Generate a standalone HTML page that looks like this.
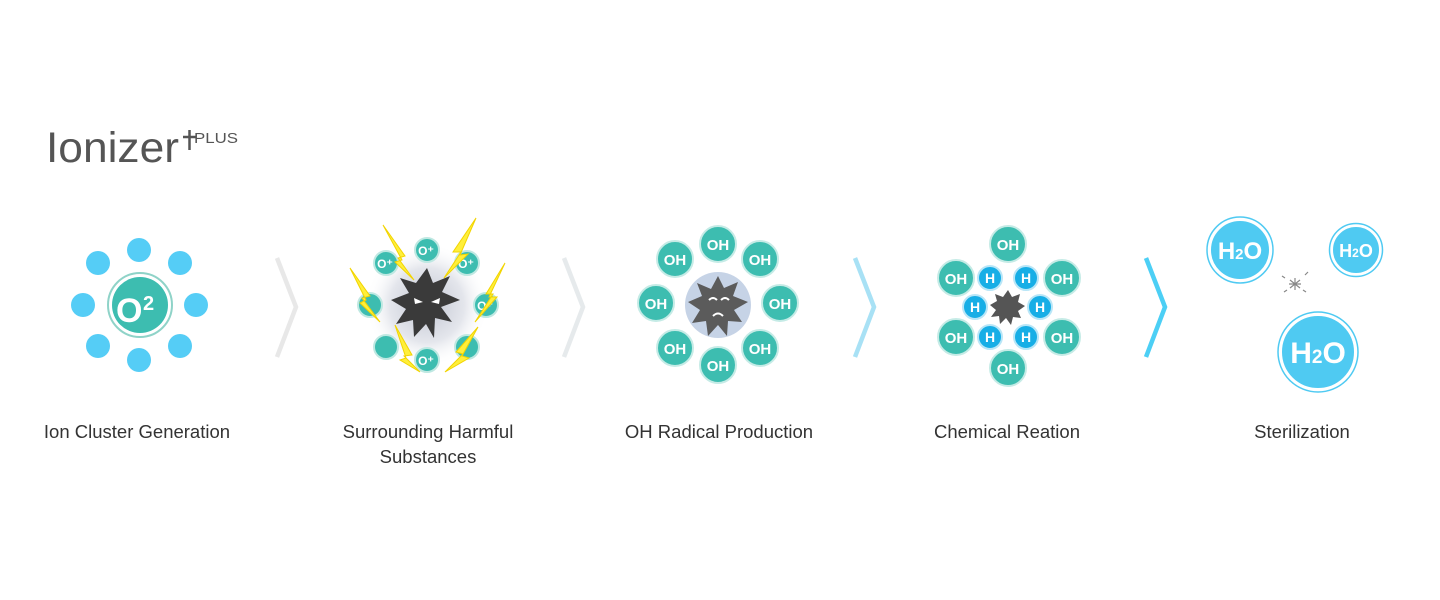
<!DOCTYPE html>
<html><head><meta charset="utf-8"><style>
html,body{margin:0;padding:0;background:#fff;}
svg{display:block}
text{font-family:"Liberation Sans",Arial,sans-serif}
</style></head><body>
<svg width="1440" height="600" viewBox="0 0 1440 600" xmlns="http://www.w3.org/2000/svg">
<defs>
<radialGradient id="glow" cx="50%" cy="50%" r="50%"><stop offset="0" stop-color="#c2c6d2"/><stop offset="0.6" stop-color="#e4e6ec"/><stop offset="1" stop-color="#fff" stop-opacity="0"/></radialGradient>
</defs>
<rect width="1440" height="600" fill="#fff"/>
<!-- title -->
<text x="46" y="162" font-size="43" fill="#555" textLength="133" lengthAdjust="spacingAndGlyphs">Ionizer</text>
<text x="194" y="143" font-size="15" fill="#555" textLength="44" lengthAdjust="spacingAndGlyphs">PLUS</text>
<path d="M183 137 H196 M189.5 130 V150" stroke="#555" stroke-width="2.5"/>

<!-- Stage 1 -->
<g fill="#55cdf6">
<circle cx="139" cy="250" r="12"/><circle cx="98" cy="263" r="12"/><circle cx="180" cy="263" r="12"/>
<circle cx="83" cy="305" r="12"/><circle cx="196" cy="305" r="12"/>
<circle cx="98" cy="346" r="12"/><circle cx="180" cy="346" r="12"/><circle cx="139" cy="360" r="12"/>
</g>
<circle cx="140" cy="305" r="32" fill="#fff" stroke="#8fd3c8" stroke-width="2"/>
<circle cx="140" cy="305" r="28" fill="#3dbdb0"/>
<text x="116" y="322" font-size="34" font-weight="bold" fill="#fff">O</text>
<text x="143" y="310" font-size="20" font-weight="bold" fill="#fff">2</text>

<!-- chevrons -->
<polyline points="277,258 296,307 277,357" fill="none" stroke="#e8e8e8" stroke-width="4.5"/>
<polyline points="564,258 583,307 564,357" fill="none" stroke="#e6eaec" stroke-width="4.5"/>
<polyline points="855,258 874,307 855,357" fill="none" stroke="#a8e1f5" stroke-width="4.5"/>
<polyline points="1146,258 1165,307 1146,357" fill="none" stroke="#4ccff5" stroke-width="4.5"/>

<!-- Stage 2 -->
<circle cx="427" cy="305" r="62" fill="url(#glow)"/>
<g>
<g fill="#3dbdb0" stroke="#bfe8e2" stroke-width="2">
<circle cx="427" cy="250" r="12"/><circle cx="386" cy="263" r="12"/><circle cx="467" cy="263" r="12"/>
<circle cx="370" cy="305" r="12"/><circle cx="486" cy="305" r="12"/>
<circle cx="386" cy="347" r="12"/><circle cx="467" cy="347" r="12"/><circle cx="427" cy="360" r="12"/>
</g>
<g font-size="12" font-weight="bold" fill="#fff" text-anchor="middle">
<text x="426" y="255">O⁺</text><text x="385" y="268">O⁺</text><text x="466" y="268">O⁺</text>
<text x="485" y="310">O⁺</text><text x="426" y="365">O⁺</text>
</g>
</g>
<polygon points="427,268 433,283 450,276 442,292 460,300 441,307 452,322 435,318 434,338 426,324 414,337 413,320 396,324 406,309 391,300 409,293 400,278 416,283" fill="#3a3a3a"/>
<path d="M414 298 l9 4 l-8 2z M440 298 l-9 4 l8 2z" fill="#fff"/>
<g fill="#ffef3a" stroke="#f2d400" stroke-width="1">
<polygon points="383,225 405,256 398,258 414,280 395,262 402,260"/>
<polygon points="476,218 453,252 461,252 444,278 468,254 460,255"/>
<polygon points="350,268 370,296 362,298 380,322 360,303 366,300"/>
<polygon points="505,263 486,294 493,294 475,322 497,297 489,297"/>
<polygon points="395,325 412,355 404,356 420,372 400,360 406,358"/>
<polygon points="478,327 456,352 463,354 445,372 469,358 462,356"/>
</g>

<!-- Stage 3 -->
<circle cx="718" cy="305" r="33" fill="#b8c8e0" opacity="0.8"/>
<polygon points="718,276 724,288 738,282 733,296 748,302 734,310 742,322 728,321 727,336 718,325 708,336 706,321 692,323 700,310 688,302 702,296 697,283 711,289" fill="#5b5b5b"/>
<path d="M709 300 q4 -4 8 0 M721 300 q4 -4 8 0 M713 316 q5 -5 10 0" stroke="#fff" stroke-width="2" fill="none"/>
<g fill="#3dbdb0" stroke="#c5ebe6" stroke-width="2">
<circle cx="718" cy="244" r="18"/><circle cx="675" cy="259" r="18"/><circle cx="760" cy="259" r="18"/>
<circle cx="656" cy="303" r="18"/><circle cx="780" cy="303" r="18"/>
<circle cx="675" cy="348" r="18"/><circle cx="760" cy="348" r="18"/><circle cx="718" cy="365" r="18"/>
</g>
<g font-size="15" font-weight="bold" fill="#fff" text-anchor="middle">
<text x="718" y="250">OH</text><text x="675" y="265">OH</text><text x="760" y="265">OH</text>
<text x="656" y="309">OH</text><text x="780" y="309">OH</text>
<text x="675" y="354">OH</text><text x="760" y="354">OH</text><text x="718" y="371">OH</text>
</g>

<!-- Stage 4 -->
<g fill="#3dbdb0" stroke="#c5ebe6" stroke-width="2">
<circle cx="1008" cy="244" r="18"/><circle cx="956" cy="278" r="18"/><circle cx="1062" cy="278" r="18"/>
<circle cx="956" cy="337" r="18"/><circle cx="1062" cy="337" r="18"/><circle cx="1008" cy="368" r="18"/>
</g>
<g font-size="15" font-weight="bold" fill="#fff" text-anchor="middle">
<text x="1008" y="250">OH</text><text x="956" y="284">OH</text><text x="1062" y="284">OH</text>
<text x="956" y="343">OH</text><text x="1062" y="343">OH</text><text x="1008" y="374">OH</text>
</g>
<g fill="#17aee6" stroke="#b9e6f7" stroke-width="2">
<circle cx="990" cy="278" r="12"/><circle cx="1026" cy="278" r="12"/>
<circle cx="975" cy="307" r="12"/><circle cx="1040" cy="307" r="12"/>
<circle cx="990" cy="337" r="12"/><circle cx="1026" cy="337" r="12"/>
</g>
<g font-size="14" font-weight="bold" fill="#fff" text-anchor="middle">
<text x="990" y="283">H</text><text x="1026" y="283">H</text><text x="975" y="312">H</text>
<text x="1040" y="312">H</text><text x="990" y="342">H</text><text x="1026" y="342">H</text>
</g>
<polygon points="1008,290 1012,297 1020,294 1018,302 1025,306 1018,311 1021,318 1013,317 1011,325 1006,318 1000,324 999,316 991,317 996,310 990,305 997,301 995,294 1003,297" fill="#555"/>

<!-- Stage 5 -->
<g fill="#4fcaf2" stroke="#fff" stroke-width="2">
<circle cx="1240" cy="250" r="30"/><circle cx="1356" cy="250" r="24"/><circle cx="1318" cy="352" r="37"/>
</g>
<g fill="none" stroke="#4fcaf2" stroke-width="1.5">
<circle cx="1240" cy="250" r="33"/><circle cx="1356" cy="250" r="26.5"/><circle cx="1318" cy="352" r="40"/>
</g>
<g font-weight="bold" fill="#fff" text-anchor="middle">
<text x="1240" y="259" font-size="24">H<tspan font-size="15">2</tspan>O</text>
<text x="1356" y="257" font-size="18">H<tspan font-size="12">2</tspan>O</text>
<text x="1318" y="363" font-size="30">H<tspan font-size="19">2</tspan>O</text>
</g>
<g stroke="#888" stroke-width="1.2">
<path d="M1290 280 l10 8 M1300 280 l-10 8 M1295 278 v12 M1289 284 h12"/>
<path d="M1282 276 l3 2 M1308 272 l-3 3 M1306 292 l-3 -2 M1284 292 l3 -2"/>
</g>

<!-- labels -->
<g font-size="18.5" fill="#333" text-anchor="middle">
<text x="137" y="438">Ion Cluster Generation</text>
<text x="428" y="438">Surrounding Harmful</text>
<text x="428" y="463">Substances</text>
<text x="719" y="438">OH Radical Production</text>
<text x="1007" y="438">Chemical Reation</text>
<text x="1302" y="438">Sterilization</text>
</g>
</svg>
</body></html>
